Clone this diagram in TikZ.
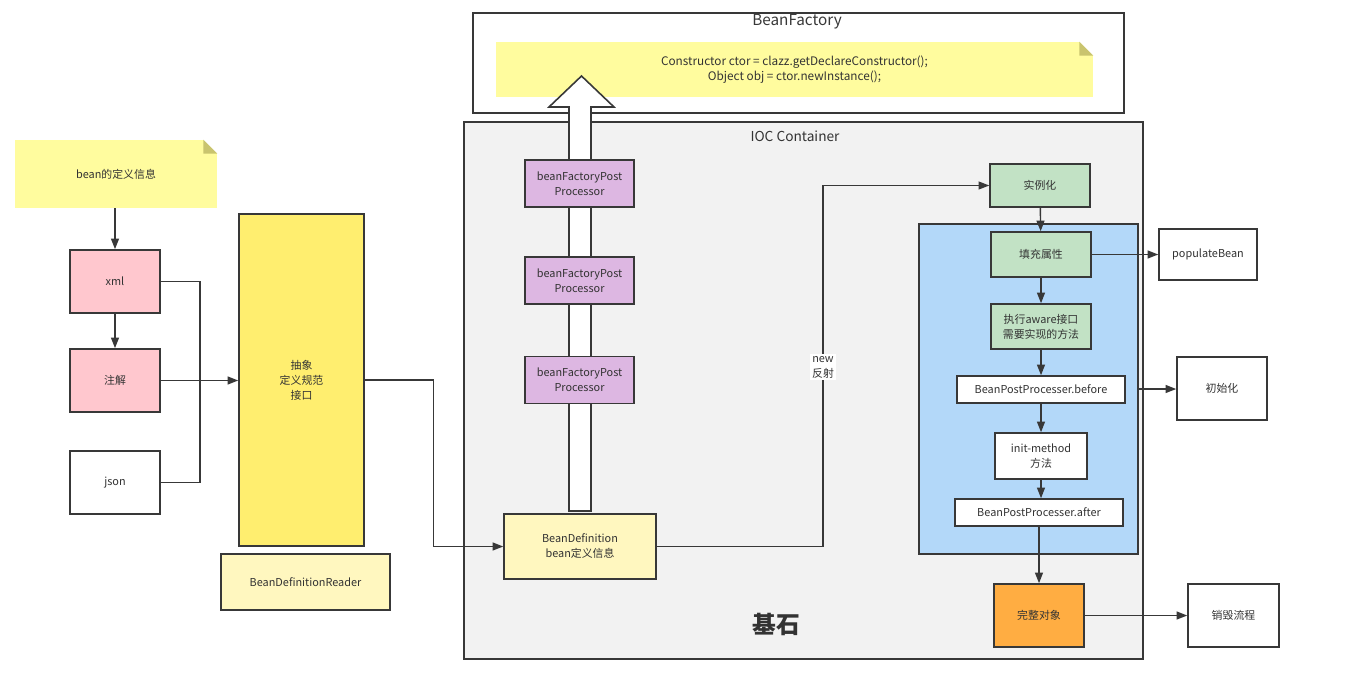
\documentclass[tikz,border=0pt]{standalone}
\usepackage{fontspec}
\setmainfont{Noto Sans CJK SC}
\usetikzlibrary{arrows.meta,calc}
\definecolor{txt}{HTML}{333333}
\definecolor{edge}{HTML}{383838}
\definecolor{notey}{HTML}{FFFC9E}
\definecolor{fold}{HTML}{C9C46E}
\definecolor{specy}{HTML}{FFEE6F}
\definecolor{paley}{HTML}{FFF7BF}
\definecolor{pinkb}{HTML}{FFC7CE}
\definecolor{lilac}{HTML}{DDB7E2}
\definecolor{greenb}{HTML}{C2E2C5}
\definecolor{blueb}{HTML}{B3D8F9}
\definecolor{orangeb}{HTML}{FFAD42}
\definecolor{iocgray}{HTML}{F2F2F2}
\newcommand{\lblfont}{\fontsize{6.2}{8.5}\selectfont}

\begin{document}
\begin{tikzpicture}[
  x=0.02cm, y=-0.02cm,
  >={Triangle[length=6pt,width=4.5pt]},
  box/.style={rectangle, draw=edge, line width=0.9pt, text=txt, font=\lblfont, align=center, inner sep=1pt},
  note/.style={rectangle, fill=notey, text=txt, font=\lblfont, align=center},
  arr/.style={->, line width=0.8pt, draw=edge},
  wire/.style={line width=0.8pt, draw=edge},
  lbl/.style={fill=white, font=\lblfont, text=txt, inner sep=1pt, align=center},
]
\useasboundingbox (0,0) rectangle (1352,696);

% BeanFactory frame
\node[box, fill=white, minimum width=13.02cm, minimum height=2cm] (bf) at (798.5,63) {};
\node[text=edge, font=\fontsize{8.7}{10}\selectfont] (bftitle) at (797,22) {BeanFactory};
\node[note, font=\fontsize{6.7}{8.5}\selectfont, minimum width=11.94cm, minimum height=1.1cm] (codenote) at (794.5,69.5)
  {Constructor ctor = clazz.getDeclareConstructor();\\Object obj = ctor.newInstance();};

% IOC container
\node[box, fill=iocgray, minimum width=13.58cm, minimum height=10.74cm] (ioc) at (803.5,390.5) {};
\node[text=txt, font=\fontsize{7.8}{10}\selectfont] (ioctitle) at (795,136) {IOC Container};
\node[text=txt, font=\fontsize{13.5}{16}\selectfont\bfseries] (jishi) at (776,624) {基石};

% hollow arrow up to the factory
\draw[draw=edge, line width=0.9pt, fill=white] (569,511) -- (569,107) -- (549,107) -- (581.5,76)
  -- (614,107) -- (591,107) -- (591,511) -- cycle;

\node[box, fill=lilac, minimum width=2.18cm, minimum height=0.94cm] (bfpp1) at (579.5,183.5) {beanFactoryPost\\Processor};
\node[box, fill=lilac, minimum width=2.18cm, minimum height=0.94cm] (bfpp2) at (579.5,280.5) {beanFactoryPost\\Processor};
\node[box, fill=lilac, minimum width=2.18cm, minimum height=0.94cm] (bfpp3) at (579.5,380) {beanFactoryPost\\Processor};
\node[box, fill=paley, minimum width=3.04cm, minimum height=1.3cm] (bd) at (580,546.5) {BeanDefinition\\bean定义信息};

% bean life cycle
\node[box, fill=greenb, minimum width=2cm, minimum height=0.86cm] (inst) at (1040,185.5) {实例化};
\node[box, fill=blueb, minimum width=4.38cm, minimum height=6.6cm] (life) at (1028.5,389) {};
\node[box, fill=greenb, minimum width=2cm, minimum height=0.9cm] (fillprop) at (1041,254.5) {填充属性};
\node[box, fill=greenb, minimum width=2cm, minimum height=0.9cm] (aware) at (1041,326.5) {执行aware接口\\需要实现的方法};
\node[box, fill=white, minimum width=3.36cm, minimum height=0.54cm] (before) at (1041,389.5) {BeanPostProcesser.before};
\node[box, fill=white, minimum width=1.84cm, minimum height=0.92cm] (initm) at (1041,456) {init-method\\方法};
\node[box, fill=white, minimum width=3.36cm, minimum height=0.54cm] (after) at (1039,512.5) {BeanPostProcesser.after};
\node[box, fill=orangeb, minimum width=1.8cm, minimum height=1.26cm] (whole) at (1039,615.5) {完整对象};

\node[box, fill=white, minimum width=1.96cm, minimum height=1.02cm] (populate) at (1208,254.5) {populateBean};
\node[box, fill=white, minimum width=1.8cm, minimum height=1.26cm] (initz) at (1222,388.5) {初始化};
\node[box, fill=white, minimum width=1.82cm, minimum height=1.26cm] (destroy) at (1233.5,615.5) {销毁流程};

% bean definition sources
\node[note, minimum width=4.04cm, minimum height=1.36cm] (defnote) at (116,174) {bean的定义信息};
\node[box, fill=pinkb, minimum width=1.8cm, minimum height=1.26cm] (xml) at (115,281.5) {xml};
\node[box, fill=pinkb, minimum width=1.8cm, minimum height=1.26cm] (anno) at (115,380.5) {注解};
\node[box, fill=white, minimum width=1.8cm, minimum height=1.26cm] (json) at (115,482.5) {json};
\node[box, fill=specy, minimum width=2.5cm, minimum height=6.64cm] (spec) at (301.5,380) {抽象\\定义规范\\接口};
\node[box, fill=paley, minimum width=3.38cm, minimum height=1.12cm] (reader) at (305.5,582) {BeanDefinitionReader};

% folded corners
\foreach \n in {codenote,defnote} {
  \fill[white] ($(\n.north east)+(-14,0)$) -- (\n.north east) -- ($(\n.north east)+(0,14)$) -- cycle;
  \fill[fold] ($(\n.north east)+(-14,0)$) -- ($(\n.north east)+(-14,14)$) -- ($(\n.north east)+(0,14)$) -- cycle;
}

\coordinate (merge) at (200,380.5);
\coordinate (refl) at (823,367);

\draw[arr] (xml.north |- defnote.south) -- (xml.north);
\draw[arr] (xml) -- (anno);
\draw[wire] (xml.east) -| (merge);
\draw[wire] (json.east) -| (merge);
\draw[arr] (anno) -- (anno -| spec.west);
\draw[arr] (spec.east) -- ++(69,0) |- (bd.west);
\draw[arr, line width=0.6pt] (bd.east) -- (bd.east -| refl) -- (refl |- inst.west) -- (inst.west);
\node[lbl] (refllbl) at (refl) {new\\反射};

\draw[arr] (inst) -- (fillprop);
\draw[arr] (fillprop) -- (aware);
\draw[arr] (aware) -- (before);
\draw[arr] (before) -- (initm);
\draw[arr] (initm) -- (initm |- after.north);
\draw[arr] (after) -- (whole);
\draw[arr] (fillprop) -- (populate);
\draw[arr] (life.east) -- (life.east -| initz.west);
\draw[arr] (whole) -- (destroy);

\end{tikzpicture}
\end{document}
